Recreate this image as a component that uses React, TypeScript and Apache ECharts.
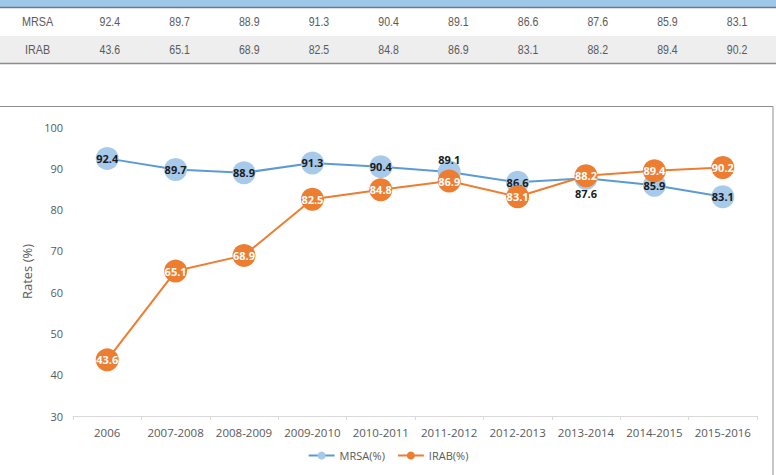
import React, { useEffect, useRef } from "react";
import * as echarts from "echarts";

const categories = [
  "2006",
  "2007-2008",
  "2008-2009",
  "2009-2010",
  "2010-2011",
  "2011-2012",
  "2012-2013",
  "2013-2014",
  "2014-2015",
  "2015-2016",
];
const mrsa = [92.4, 89.7, 88.9, 91.3, 90.4, 89.1, 86.6, 87.6, 85.9, 83.1];
const irab = [43.6, 65.1, 68.9, 82.5, 84.8, 86.9, 83.1, 88.2, 89.4, 90.2];
const rowNames = ["MRSA", "IRAB"];
const yTicks = { min: 30, max: 100, interval: 10 };

// MRSA labels that would sit under an IRAB marker are moved off the point
const mrsaLabelPos: Record<number, { position: string; distance: number }> = {
  5: { position: "top", distance: -4 },
  7: { position: "bottom", distance: -2 },
};

const W = 776;
const H = 475;

const BLUE_LINE = "#5b9bd5";
const BLUE_FILL = "#a7c9ea";
const ORANGE = "#ed7d31";
const AXIS_TEXT = "#595959";

function buildTable(): any[] {
  const els: any[] = [];
  const labelColW = 75;
  const colW = 69.7;
  const rowTop = 8;
  const rowH = 28;
  // header strip, row shading and rules
  els.push({ type: "rect", shape: { x: 0, y: 0, width: W, height: 7 }, style: { fill: "#9fc7ea" }, silent: true });
  els.push({ type: "rect", shape: { x: 0, y: rowTop + rowH, width: W, height: rowH - 1 }, style: { fill: "#eeeeee" }, silent: true });
  els.push({ type: "line", shape: { x1: 0, y1: 7.5, x2: W, y2: 7.5 }, style: { stroke: "#6f7a84", lineWidth: 1.5 }, silent: true });
  els.push({ type: "line", shape: { x1: 0, y1: 63.5, x2: W, y2: 63.5 }, style: { stroke: "#8c8c8c", lineWidth: 1.5 }, silent: true });
  const rows = [mrsa, irab];
  const font = { fontFamily: "'Liberation Sans', sans-serif", fontSize: 12, fill: "#5a5a5a" };
  rows.forEach((vals, r) => {
    const cy = rowTop + rowH * r + rowH / 2;
    els.push({
      type: "text",
      x: labelColW / 2,
      y: cy,
      scaleX: 0.9,
      style: { text: rowNames[r], align: "center", verticalAlign: "middle", ...font },
      silent: true,
    });
    vals.forEach((v, i) => {
      els.push({
        type: "text",
        x: labelColW + colW * i + colW / 2,
        y: cy,
        scaleX: 0.88,
        style: { text: v.toFixed(1), align: "center", verticalAlign: "middle", ...font },
        silent: true,
      });
    });
  });
  // chart frame
  els.push({
    type: "rect",
    shape: { x: -1, y: 106.5, width: 774, height: 400 },
    style: { fill: "none", stroke: "#8f8f8f", lineWidth: 1 },
    silent: true,
    z: -1,
  });
  return els;
}

export default function App() {
  const ref = useRef<HTMLDivElement>(null);

  useEffect(() => {
    if (!ref.current) return;
    const chart = echarts.init(ref.current, undefined, { renderer: "svg" });
    const labelFont = {
      fontFamily: "'Open Sans', sans-serif",
      fontSize: 11,
      fontWeight: "bold" as const,
    };
    chart.setOption({
      animation: false,
      backgroundColor: "#ffffff",
      textStyle: { fontFamily: "'Open Sans', sans-serif" },
      graphic: buildTable(),
      grid: { left: 73, right: 19, top: 127, bottom: 59 },
      legend: {
        bottom: 9,
        left: "center",
        itemWidth: 26,
        itemHeight: 10,
        itemGap: 12,
        textStyle: { color: AXIS_TEXT, fontSize: 11, fontFamily: "'Open Sans', sans-serif" },
        data: ["MRSA(%)", "IRAB(%)"],
      },
      xAxis: {
        type: "category",
        data: categories,
        boundaryGap: true,
        axisLine: { lineStyle: { color: "#d9d9d9", width: 1 } },
        axisTick: { show: true, length: 4, lineStyle: { color: "#d9d9d9" } },
        axisLabel: { color: AXIS_TEXT, fontSize: 11.5, margin: 10, interval: 0 },
        splitLine: { show: false },
      },
      yAxis: {
        type: "value",
        min: yTicks.min,
        max: yTicks.max,
        interval: yTicks.interval,
        name: "Rates (%)",
        nameLocation: "middle",
        nameGap: 34,
        nameRotate: 90,
        nameTextStyle: { color: AXIS_TEXT, fontSize: 13 },
        axisLine: { show: false },
        axisTick: { show: false },
        axisLabel: { color: AXIS_TEXT, fontSize: 11, margin: 10 },
        splitLine: { show: false },
      },
      series: [
        {
          name: "MRSA(%)",
          type: "line",
          data: mrsa.map((v, i) =>
            mrsaLabelPos[i] ? { value: v, label: { ...mrsaLabelPos[i] } } : v
          ),
          symbol: "circle",
          symbolSize: 23,
          z: 2,
          lineStyle: { color: BLUE_LINE, width: 2 },
          itemStyle: { color: BLUE_FILL, borderWidth: 0 },
          label: { show: true, position: "inside", color: "#1a1a1a", ...labelFont, formatter: (p: any) => Number(p.value).toFixed(1) },
        },
        {
          name: "IRAB(%)",
          type: "line",
          data: irab,
          symbol: "circle",
          symbolSize: 23,
          z: 3,
          lineStyle: { color: ORANGE, width: 2 },
          itemStyle: { color: ORANGE, borderWidth: 0 },
          label: { show: true, position: "inside", color: "#ffffff", ...labelFont, formatter: (p: any) => Number(p.value).toFixed(1) },
        },
      ],
    });
    return () => chart.dispose();
  }, []);

  return (
    <div
      ref={ref}
      style={{ position: "fixed", left: 0, top: 0, width: W, height: H, background: "#fff" }}
    />
  );
}
